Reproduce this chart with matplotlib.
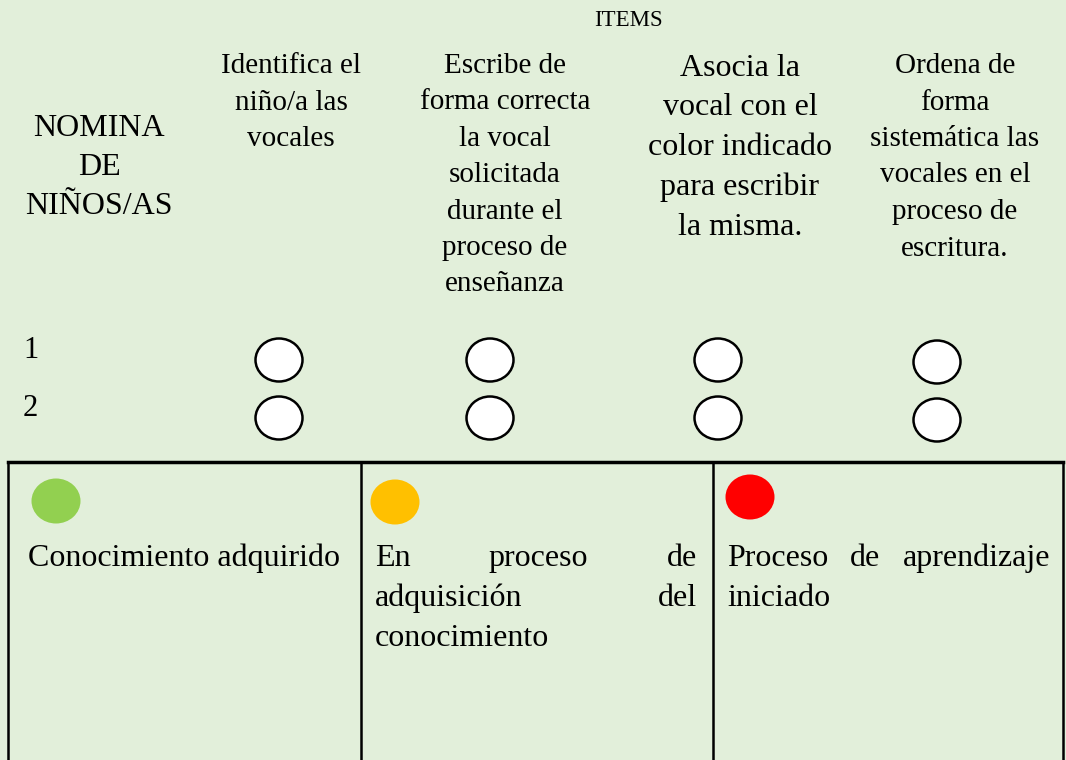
import numpy as np
import matplotlib.pyplot as plt
from matplotlib.patches import Ellipse

# contenido
titulo = "ITEMS"
nomina = ["NOMINA", "DE", "NIÑOS/AS"]
items = [
    ["Identifica el", "niño/a las", "vocales"],
    ["Escribe de", "forma correcta", "la vocal", "solicitada", "durante el",
     "proceso de", "enseñanza"],
    ["Asocia la", "vocal con el", "color indicado", "para escribir", "la misma."],
    ["Ordena de", "forma", "sistemática las", "vocales en el", "proceso de",
     "escritura."],
]
filas = ["1", "2"]
leyenda_colores = ["#92D050", "#FFC000", "#FF0000"]
leyenda_textos = [
    ["Conocimiento adquirido"],
    ["En proceso de", "adquisición del", "conocimiento"],
    ["Proceso de aprendizaje", "iniciado"],
]

fondo = "#E2EFDA"
serif = "Liberation Serif"

# layout (pixeles)
col_x = [291, 505, 740, 955]
col_y0 = [66, 66, 68, 66]
col_step = [36.6, 36.4, 39.8, 36.5]
col_size = [21, 21, 23, 21]
circ_x = [279, 490, 718, 937]
fila_y = [360, 418]
leg_x = [8, 361, 713, 1063]

fig = plt.figure(figsize=(10.66, 7.6), dpi=100, facecolor=fondo)
ax = fig.add_axes([0, 0, 1, 1])
ax.set_xlim(0, 1066)
ax.set_ylim(760, 0)
ax.axis("off")
ax.set_facecolor(fondo)

ax.text(628, 20, titulo, ha="center", va="center", fontsize=16.5, family=serif)

for i, t in enumerate(nomina):
    ax.text(99, 129 + i * 38.8, t, ha="center", va="center", fontsize=23, family=serif)

for j, lineas in enumerate(items):
    for k, t in enumerate(lineas):
        ax.text(col_x[j], col_y0[j] + k * col_step[j], t, ha="center", va="center",
                fontsize=col_size[j], family=serif)

for r, f in enumerate(filas):
    ax.text(23, fila_y[r] - 9, f, ha="left", va="center", fontsize=22, family=serif)
    for j in range(len(items)):
        ax.add_patch(Ellipse((circ_x[j], fila_y[r] + (2 if j == 3 else 0)), 47, 43,
                             facecolor="white", edgecolor="black", lw=1.8))

# tabla de leyenda
ax.plot([leg_x[0], leg_x[3]], [462, 462], color="black", lw=2.5)
for xv in leg_x:
    ax.plot([xv, xv], [462, 760], color="black", lw=1.8)

fig.canvas.draw()
rend = fig.canvas.get_renderer()
inv = ax.transData.inverted()


def justificar(x0, x1, y, linea, ultima):
    if ultima:
        ax.text(x0, y, linea, ha="left", va="baseline", fontsize=23, family=serif)
        return
    palabras = linea.split()
    arts = [ax.text(0, y, p, ha="left", va="baseline", fontsize=23, family=serif)
            for p in palabras]
    anchos = []
    for a in arts:
        bb = a.get_window_extent(rend)
        anchos.append(inv.transform((bb.x1, 0))[0] - inv.transform((bb.x0, 0))[0])
    hueco = (x1 - x0 - sum(anchos)) / (len(palabras) - 1)
    x = x0
    for a, w in zip(arts, anchos):
        a.set_x(x)
        x += w + hueco


leg_dot = [(56, 501), (395, 502), (750, 497)]
leg_x0 = [28, 375, 727]
leg_x1 = [340, 697, 1050]
for c in range(3):
    ax.add_patch(Ellipse(leg_dot[c], 49, 45, facecolor=leyenda_colores[c], edgecolor="none"))
    lineas = leyenda_textos[c]
    for k, t in enumerate(lineas):
        justificar(leg_x0[c], leg_x1[c], 566 + k * 40, t, k == len(lineas) - 1)

fig.savefig("out.png", dpi=100, facecolor=fondo)
